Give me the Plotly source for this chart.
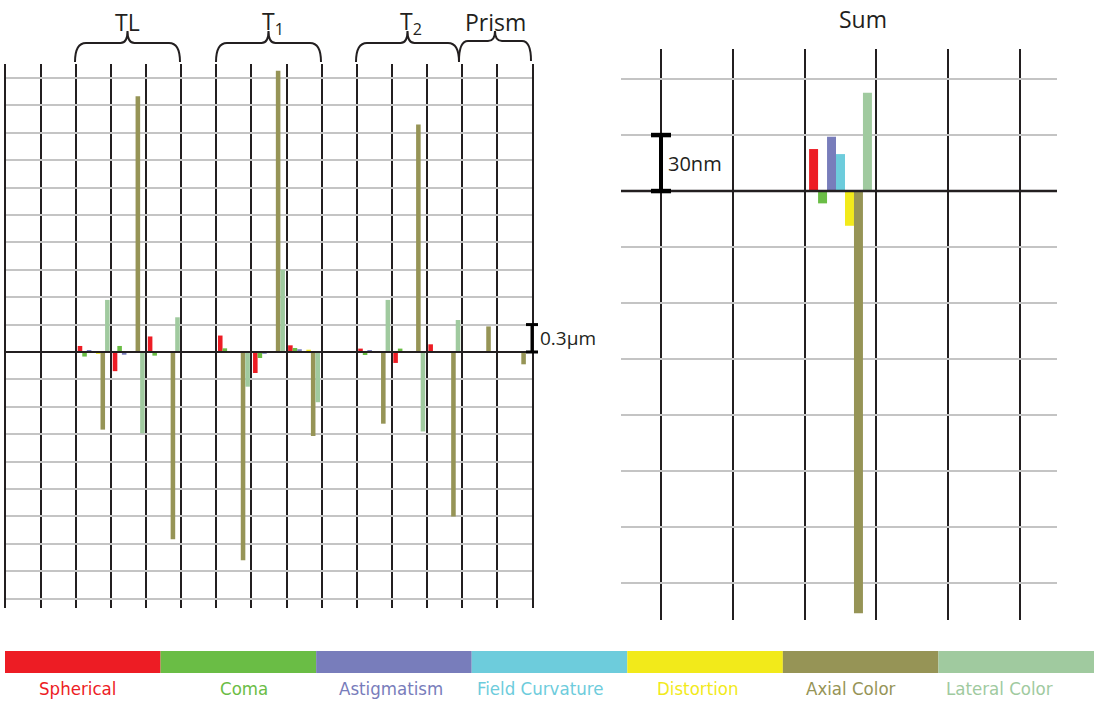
import plotly.graph_objects as go

W, H = 1094, 702

# ---------------- data ----------------
aberrations = ["Spherical", "Coma", "Astigmatism", "Field Curvature",
               "Distortion", "Axial Color", "Lateral Color"]
colors = ["#ED1C24", "#6ABD45", "#787DBB", "#6DCCDC",
          "#F2EA1A", "#969456", "#A0CA9F"]

# 15 surface columns (left panel), values in micrometres
surfaces = list(range(15))
spherical = [0, 0, 0.066, -0.21, 0.17, 0, 0.18, -0.23, 0.073, 0, 0.037, -0.12, 0.084, -0.01, -0.005]
coma = [0, 0, -0.05, 0.066, -0.04, 0, 0.04, -0.066, 0.044, 0, -0.033, 0.037, -0.01, 0, 0]
astigmatism = [0, 0, 0.02, -0.03, -0.005, 0, 0.01, -0.02, 0.03, 0, 0.022, -0.005, 0.003, 0, 0]
field_curvature = [0, 0, 0.003, 0.003, 0.002, 0, 0.005, -0.003, 0.01, 0, 0.002, 0.002, 0.002, 0, 0]
distortion = [0, 0, -0.02, 0.01, 0.003, 0, 0.002, 0.002, 0.025, 0, -0.01, 0.003, 0.002, 0, 0]
axial_color = [0, 0, -0.85, 2.80, -2.05, 0, -2.28, 3.08, -0.92, 0, -0.785, 2.49, -1.80, 0.28, -0.135]
lateral_color = [0, 0, 0.57, -0.89, 0.38, 0, -0.38, 0.90, -0.55, 0, 0.57, -0.87, 0.35, 0.003, 0.003]
series = [spherical, coma, astigmatism, field_curvature, distortion, axial_color, lateral_color]

# Sum panel, values in nanometres
sum_position = [2.5]
sum_nm = [22.5, -6.6, 29.1, 19.8, -18.6, -226.2, 52.7]

group_titles = ["TL", "T<sub>1</sub>", "T<sub>2</sub>", "Prism"]

# ---------------- layout constants ----------------
INK = "#231F20"
GRID = "#C4C4C4"
L_DOM_X = (6 / W, 532 / W)
L_DOM_Y = (1 - 608 / H, 1 - 64 / H)
L_RANGE_Y = (-2.803, 3.153)
R_DOM_X = (621 / W, 1057 / W)
R_DOM_Y = (1 - 620 / H, 1 - 49 / H)
R_RANGE_X = (-0.557, 5.515)
R_RANGE_Y = (-229.8, 76.1)


def px(x):
    return x / W


def py(y):
    return 1 - y / H


def val_to_paper(v, rng, dom):
    return dom[0] + (v - rng[0]) / (rng[1] - rng[0]) * (dom[1] - dom[0])


fig = go.Figure()

n = len(aberrations)
bw_l = 0.13
bw_r = 0.125
for i in range(n):
    fig.add_trace(go.Bar(
        x=surfaces, y=series[i], name=aberrations[i],
        marker=dict(color=colors[i], line=dict(width=0)),
        width=bw_l, offset=-bw_l * n / 2 + i * bw_l,
        xaxis="x", yaxis="y", showlegend=False))
for i in range(n):
    fig.add_trace(go.Bar(
        x=sum_position, y=[sum_nm[i]], name=aberrations[i],
        marker=dict(color=colors[i], line=dict(width=0)),
        width=bw_r, offset=-bw_r * n / 2 + i * bw_r,
        xaxis="x2", yaxis="y2", showlegend=False))

shapes = []
annotations = []

# zero lines (on top of bars)
yz_l = val_to_paper(0, L_RANGE_Y, L_DOM_Y)
shapes.append(dict(type="line", xref="paper", yref="paper", x0=L_DOM_X[0], x1=L_DOM_X[1],
                   y0=yz_l, y1=yz_l, line=dict(color=INK, width=2), layer="above"))
yz_r = val_to_paper(0, R_RANGE_Y, R_DOM_Y)
shapes.append(dict(type="line", xref="paper", yref="paper", x0=R_DOM_X[0], x1=R_DOM_X[1],
                   y0=yz_r, y1=yz_r, line=dict(color=INK, width=2.5), layer="above"))

# scale bar left: 0.3 µm
xb = L_DOM_X[1]
y03 = val_to_paper(0.3, L_RANGE_Y, L_DOM_Y)
shapes.append(dict(type="line", xref="paper", yref="paper", x0=xb, x1=xb, y0=yz_l, y1=y03,
                   line=dict(color="black", width=3), layer="above"))
for yy in (yz_l, y03):
    shapes.append(dict(type="line", xref="paper", yref="paper", x0=xb - px(6), x1=xb + px(6),
                       y0=yy, y1=yy, line=dict(color="black", width=3), layer="above"))
annotations.append(dict(text="0.3µm", xref="paper", yref="paper", x=px(538), y=(yz_l + y03) / 2,
                        xanchor="left", yanchor="middle", showarrow=False,
                        font=dict(family="Open Sans", size=19, color=INK)))

# scale bar right: 30 nm
xr0 = val_to_paper(0, R_RANGE_X, R_DOM_X)
y30 = val_to_paper(30, R_RANGE_Y, R_DOM_Y)
shapes.append(dict(type="line", xref="paper", yref="paper", x0=xr0, x1=xr0, y0=yz_r, y1=y30,
                   line=dict(color="black", width=4), layer="above"))
for yy in (yz_r, y30):
    shapes.append(dict(type="line", xref="paper", yref="paper", x0=xr0 - px(10), x1=xr0 + px(10),
                       y0=yy, y1=yy, line=dict(color="black", width=4.5), layer="above"))
annotations.append(dict(text="30nm", xref="paper", yref="paper", x=xr0 + px(5), y=(yz_r + y30) / 2,
                        xanchor="left", yanchor="middle", showarrow=False,
                        font=dict(family="Open Sans", size=20, color=INK)))


# braces above groups
def brace(x0, x1, ybot=62, ymid=43, ytop=31, r=11):
    xm = (x0 + x1) / 2
    pts = [
        f"M{px(x0)},{py(ybot)}",
        f"Q{px(x0)},{py(ymid)} {px(x0 + r)},{py(ymid)}",
        f"L{px(xm - 7)},{py(ymid)}",
        f"Q{px(xm)},{py(ymid)} {px(xm)},{py(ytop)}",
        f"Q{px(xm)},{py(ymid)} {px(xm + 7)},{py(ymid)}",
        f"L{px(x1 - r)},{py(ymid)}",
        f"Q{px(x1)},{py(ymid)} {px(x1)},{py(ybot)}",
    ]
    return dict(type="path", xref="paper", yref="paper", path=" ".join(pts),
                line=dict(color=INK, width=2))


brace_spans = [(75, 180), (216, 321), (356, 459)]
for (a, b) in brace_spans:
    shapes.append(brace(a, b))
shapes.append(brace(459, 531, ybot=61, ymid=41, ytop=31, r=9))

title_x = [127, 273, 411, 495]
for t, x in zip(group_titles, title_x):
    annotations.append(dict(text=t, xref="paper", yref="paper", x=px(x), y=py(22),
                            xanchor="center", yanchor="middle", showarrow=False,
                            font=dict(family="Open Sans", size=23, color=INK)))
annotations.append(dict(text="Sum", xref="paper", yref="paper", x=px(863), y=py(19),
                        xanchor="center", yanchor="middle", showarrow=False,
                        font=dict(family="Open Sans", size=23, color=INK)))

# colour key at the bottom
key_x0, key_w = 5, (1094 - 5) / 7
label_x = [77, 244, 391, 540, 698, 851, 999]
for i in range(n):
    shapes.append(dict(type="rect", xref="paper", yref="paper",
                       x0=px(key_x0 + i * key_w), x1=px(key_x0 + (i + 1) * key_w),
                       y0=py(673), y1=py(651), fillcolor=colors[i], line=dict(width=0)))
    annotations.append(dict(text=aberrations[i], xref="paper", yref="paper",
                            x=px(label_x[i]), y=py(688), xanchor="center", yanchor="middle",
                            showarrow=False,
                            font=dict(family="DejaVu Sans Condensed, DejaVu Sans",
                                      size=18.5, color=colors[i])))

fig.update_layout(
    width=W, height=H, margin=dict(l=0, r=0, t=0, b=0),
    paper_bgcolor="white", plot_bgcolor="white",
    barmode="overlay", showlegend=False,
    xaxis=dict(domain=list(L_DOM_X), range=[-0.5, 14.5], tick0=-0.5, dtick=1,
               showgrid=True, gridcolor=INK, gridwidth=2, zeroline=False,
               showticklabels=False, ticks="", fixedrange=True),
    yaxis=dict(domain=list(L_DOM_Y), range=list(L_RANGE_Y), tick0=0, dtick=0.3,
               showgrid=True, gridcolor=GRID, gridwidth=2, zeroline=False,
               showline=True, mirror=True, linecolor=INK, linewidth=2,
               showticklabels=False, ticks="", fixedrange=True),
    xaxis2=dict(domain=list(R_DOM_X), range=list(R_RANGE_X), tick0=0, dtick=1,
                showgrid=True, gridcolor=INK, gridwidth=2, zeroline=False,
                showticklabels=False, ticks="", anchor="y2", fixedrange=True),
    yaxis2=dict(domain=list(R_DOM_Y), range=list(R_RANGE_Y), tick0=0, dtick=30,
                showgrid=True, gridcolor=GRID, gridwidth=2, zeroline=False,
                showticklabels=False, ticks="", anchor="x2", fixedrange=True),
    shapes=shapes, annotations=annotations,
)

fig.write_html("out.html", config={"displayModeBar": False})
